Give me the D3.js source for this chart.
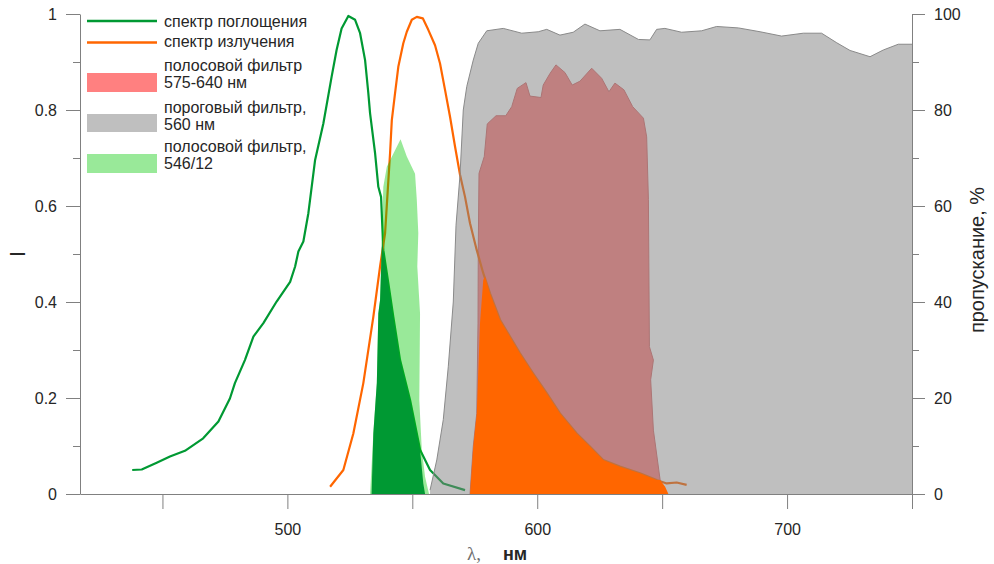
<!DOCTYPE html>
<html>
<head>
<meta charset="utf-8">
<script src="https://cdn.jsdelivr.net/npm/d3@7"></script>
<style>
  html, body { margin: 0; padding: 0; background: #fff; }
  svg { display: block; }
  text { font-family: "Liberation Sans", Arial, sans-serif; }
</style>
</head>
<body>
<svg id="chart" width="994" height="564"></svg>
<script>
// ---------------- DATA ----------------
// absorption spectrum: [wavelength nm, relative intensity I]
const absorption = [
  [437.9,0.050],[441.7,0.051],[447.7,0.065],[453.0,0.078],[459.0,0.090],[466.3,0.116],
  [472.4,0.151],[477.0,0.199],[479.0,0.231],[483.0,0.279],[486.4,0.328],[490.4,0.356],
  [495.7,0.401],[501.1,0.442],[503.1,0.474],[504.4,0.505],[506.4,0.526],[508.4,0.585],
  [511.1,0.696],[514.4,0.772],[517.7,0.869],[519.7,0.925],[521.7,0.970],[524.4,0.996],
  [527.1,0.988],[529.1,0.960],[531.1,0.904],[532.4,0.835],[533.1,0.793],[535.1,0.710],
  [536.4,0.640],[537.5,0.619],[538.4,0.508],[540.4,0.439],[542.4,0.369],[545.1,0.279],
  [549.1,0.196],[553.1,0.092],[557.1,0.050],[562.4,0.022],[571.1,0.008]
];
// emission spectrum
const emission = [
  [517.1,0.015],[522.4,0.050],[526.4,0.126],[530.4,0.231],[534.4,0.369],[537.1,0.474],
  [539.1,0.543],[541.1,0.710],[541.8,0.779],[543.1,0.835],[544.4,0.890],[546.4,0.939],
  [547.8,0.963],[549.8,0.988],[551.8,0.994],[554.2,0.991],[556.4,0.967],[559.1,0.935],
  [561.1,0.897],[563.1,0.842],[565.1,0.786],[567.1,0.724],[569.1,0.665],[571.1,0.619],
  [573.1,0.564],[575.8,0.508],[578.4,0.460],[581.1,0.418],[585.1,0.363],[589.1,0.328],
  [593.1,0.293],[598.4,0.251],[603.8,0.210],[609.1,0.168],[615.8,0.126],[621.1,0.099],
  [626.4,0.071],[633.1,0.057],[641.1,0.043],[647.8,0.029],[651.8,0.022],[655.8,0.024],
  [659.8,0.019]
];
// long-pass (threshold) filter 560 nm: [nm, transmission %]
const longpass560 = [
  [557.1,0.8],[559.8,7.1],[562.4,15.5],[564.4,26.5],[566.4,40],[567.5,56],[569.1,66.5],
  [570.4,80.0],[571.8,84.9],[574.4,90.4],[576.4,93.9],[579.8,96.5],[586.4,97.0],
  [593.8,96.0],[600.4,96.3],[603.8,96.8],[609.1,95.6],[614.4,96.2],[619.1,97.9],
  [625.1,96.5],[633.1,96.8],[640.5,94.7],[645.1,94.6],[647.8,96.8],[651.1,97.0],
  [657.8,96.2],[665.8,96.5],[671.8,97.4],[680.5,97.1],[689.2,96.3],[697.8,95.4],
  [706.5,96.0],[713.8,96.0],[719.9,94.0],[725.2,92.4],[733.2,91.1],[738.5,92.5],
  [744.5,93.7],[750.0,93.7]
];
// band-pass filter 575-640 nm
const bandpass575_640 = [
  [573.1,0],[574.4,9.9],[575.8,16.8],[576.3,35.6],[576.4,50.8],[576.7,66.8],[578.8,70.3],
  [580.0,77.1],[583.5,78.8],[587.4,78.8],[589.8,80.7],[592.0,84.5],[595.5,85.7],
  [597.1,82.9],[601.5,82.6],[602.4,85.2],[605.1,87.6],[607.5,89.4],[611.1,87.8],
  [614.0,85.2],[617.1,86.0],[621.8,88.7],[625.8,86.6],[628.7,83.8],[631.1,85.6],
  [634.7,84.2],[638.2,80.7],[642.5,78.3],[643.8,74.4],[644.5,61.3],[644.9,30.7],
  [646.5,27.9],[645.4,23.8],[646.5,13.3],[649.2,2.9],[650.0,0]
];
// band-pass filter 546/12
const bandpass546_12 = [
  [533.1,0],[534.4,12.6],[535.8,23.1],[536.4,37.6],[537.1,40.4],[537.8,52.9],[538.4,64.0],
  [539.8,68.2],[545.3,73.9],[547.8,70.3],[551.1,66.7],[551.8,61.3],[552.4,54.3],
  [552.0,47.4],[553.1,37.6],[552.8,19.6],[553.8,9.2],[555.1,3.6],[556.7,0]
];
// absorption passed through the 546/12 filter
const absorptionFiltered = [
  [533.7,0],[534.4,0.126],[535.8,0.231],[536.4,0.376],[537.1,0.404],[537.9,0.53],
  [538.4,0.508],[540.4,0.439],[542.4,0.369],[545.1,0.279],[549.1,0.196],[553.1,0.092],
  [554.4,0.022],[555.1,0]
];
// emission passed through the 575-640 filter
const emissionFiltered = [
  [573.1,0],[574.4,0.099],[575.8,0.168],[577.1,0.356],[578.4,0.446],[579.1,0.453],
  [581.1,0.418],[585.1,0.363],[589.1,0.328],[593.1,0.293],[598.4,0.251],[603.8,0.210],
  [609.1,0.168],[615.8,0.126],[621.1,0.099],[626.4,0.071],[633.1,0.057],[641.1,0.043],
  [647.8,0.029],[649.2,0.029],[651.2,0.015],[652.5,0]
];

const legendLabels = [
  ["спектр поглощения"],
  ["спектр излучения"],
  ["полосовой фильтр", "575-640 нм"],
  ["пороговый фильтр,", "560 нм"],
  ["полосовой фильтр,", "546/12"]
];
const xMajorTicks = [500, 600, 700];
const xMinorTicks = [450, 550, 650, 750];
const yLeftMajorTicks = [0, 0.2, 0.4, 0.6, 0.8, 1];
const yLeftMinorTicks = [0.1, 0.3, 0.5, 0.7, 0.9];
const yRightMajorTicks = [0, 20, 40, 60, 80, 100];
const yRightMinorTicks = [10, 30, 50, 70, 90];
const xTitle = ["λ,", "нм"];
const yLeftTitle = "I";
const yRightTitle = "пропускание, %";

// ---------------- CHART ----------------
const svg = d3.select("#chart");
const x = d3.scaleLinear().domain([417, 750]).range([80, 912]);
const yL = d3.scaleLinear().domain([0, 1]).range([494, 14]);
const yR = d3.scaleLinear().domain([0, 100]).range([494, 14]);

const COL = {
  green: "#009933", orange: "#ff6600", red: "#ff8080",
  grey: "rgba(128,128,128,0.5)", lightGreen: "rgba(0,200,0,0.4)", axis: "#808080", text: "#262626"
};

const areaL = d3.area().x(d => x(d[0])).y0(yL(0)).y1(d => yL(d[1]));
const areaR = d3.area().x(d => x(d[0])).y0(yR(0)).y1(d => yR(d[1]));
const lineL = d3.line().x(d => x(d[0])).y(d => yL(d[1]));
const lineR = d3.line().x(d => x(d[0])).y(d => yR(d[1]));

const plot = svg.append("g");
// band-pass 575-640 (opaque, under everything)
plot.append("path").datum(bandpass575_640).attr("d", areaR)
  .attr("fill", COL.red).attr("stroke", "#d86a6a").attr("stroke-width", 1);
// spectra lines
plot.append("path").datum(absorption).attr("d", lineL)
  .attr("fill", "none").attr("stroke", COL.green).attr("stroke-width", 2.2).attr("stroke-linejoin", "round");
plot.append("path").datum(emission).attr("d", lineL)
  .attr("fill", "none").attr("stroke", COL.orange).attr("stroke-width", 2.2).attr("stroke-linejoin", "round");
// band-pass 546/12 (translucent)
plot.append("path").datum(bandpass546_12).attr("d", areaR).attr("fill", COL.lightGreen);
// long-pass 560 (translucent)
plot.append("path").datum(longpass560).attr("d", areaR).attr("fill", COL.grey);
plot.append("path").datum(longpass560).attr("d", lineR)
  .attr("fill", "none").attr("stroke", "#8a8a8a").attr("stroke-width", 1);
// filtered signals
plot.append("path").datum(absorptionFiltered).attr("d", areaL).attr("fill", COL.green);
plot.append("path").datum(emissionFiltered).attr("d", areaL).attr("fill", COL.orange);

// ---------------- AXES ----------------
const axG = svg.append("g").attr("class", "axes");
function styleAxis(g) {
  g.selectAll("path.domain").attr("stroke", COL.axis);
  g.selectAll(".tick line").attr("stroke", COL.axis);
  g.selectAll(".tick text").attr("fill", COL.text).style("font-size", "16px")
    .style("font-family", '"Liberation Sans", Arial, sans-serif');
}
// X axis
const gx = axG.append("g").attr("transform", `translate(0,${yL(0)})`)
  .call(d3.axisBottom(x).tickValues(xMajorTicks).tickSize(15).tickSizeOuter(0).tickPadding(14.5).tickFormat(d3.format("d")));
styleAxis(gx);
const gxm = axG.append("g").attr("transform", `translate(0,${yL(0)})`)
  .call(d3.axisBottom(x).tickValues(xMinorTicks).tickSize(15).tickSizeOuter(0).tickFormat(""));
gxm.select("path.domain").remove();
styleAxis(gxm);
// Left axis
const gl = axG.append("g").attr("transform", `translate(${x(417)},0)`)
  .call(d3.axisLeft(yL).tickValues(yLeftMajorTicks).tickSize(14).tickSizeOuter(0).tickPadding(9)
    .tickFormat(d => d === 0 ? "0" : d === 1 ? "1" : d3.format(".1f")(d)));
styleAxis(gl);
const glm = axG.append("g").attr("transform", `translate(${x(417)},0)`)
  .call(d3.axisLeft(yL).tickValues(yLeftMinorTicks).tickSize(7).tickSizeOuter(0).tickFormat(""));
glm.select("path.domain").remove();
styleAxis(glm);
// Right axis
const gr = axG.append("g").attr("transform", `translate(${x(750)},0)`)
  .call(d3.axisRight(yR).tickValues(yRightMajorTicks).tickSize(13).tickSizeOuter(0).tickPadding(9).tickFormat(d3.format("d")));
styleAxis(gr);
const grm = axG.append("g").attr("transform", `translate(${x(750)},0)`)
  .call(d3.axisRight(yR).tickValues(yRightMinorTicks).tickSize(7).tickSizeOuter(0).tickFormat(""));
grm.select("path.domain").remove();
styleAxis(grm);

// Axis titles
svg.append("text").attr("transform", "translate(25,254) rotate(-90)")
  .attr("text-anchor", "middle").attr("fill", COL.text).style("font-size", "22px").text(yLeftTitle);
svg.append("text").attr("transform", "translate(984,260) rotate(-90)")
  .attr("text-anchor", "middle").attr("fill", COL.text).style("font-size", "20px").text(yRightTitle);
const xt = svg.append("text").attr("x", 467).attr("y", 560);
xt.append("tspan").style("font-family", '"Liberation Serif", "Times New Roman", serif')
  .style("font-size", "19px").attr("fill", "#707070").text(xTitle[0]);
xt.append("tspan").attr("x", 503).style("font-size", "18px").style("font-weight", "bold")
  .attr("fill", COL.text).text(xTitle[1]);

// ---------------- LEGEND ----------------
const lg = svg.append("g");
const baselines = [[27], [46.5], [70.5, 88], [113, 129.5], [152, 169]];
const swatch = [
  {type: "line", color: COL.green, y: 21},
  {type: "line", color: COL.orange, y: 42.5},
  {type: "rect", color: COL.red, y: 73, h: 19},
  {type: "rect", color: COL.grey, y: 114, h: 18},
  {type: "rect", color: COL.lightGreen, y: 154, h: 19}
];
legendLabels.forEach((lines, i) => {
  const s = swatch[i];
  if (s.type === "line") {
    lg.append("line").attr("x1", 87).attr("x2", 157).attr("y1", s.y).attr("y2", s.y)
      .attr("stroke", s.color).attr("stroke-width", 2.5);
  } else {
    lg.append("rect").attr("x", 87).attr("y", s.y).attr("width", 70).attr("height", s.h).attr("fill", s.color);
  }
  lines.forEach((t, j) => {
    lg.append("text").attr("x", 164).attr("y", baselines[i][j]).attr("fill", COL.text)
      .style("font-size", "16px").text(t);
  });
});
</script>
</body>
</html>
